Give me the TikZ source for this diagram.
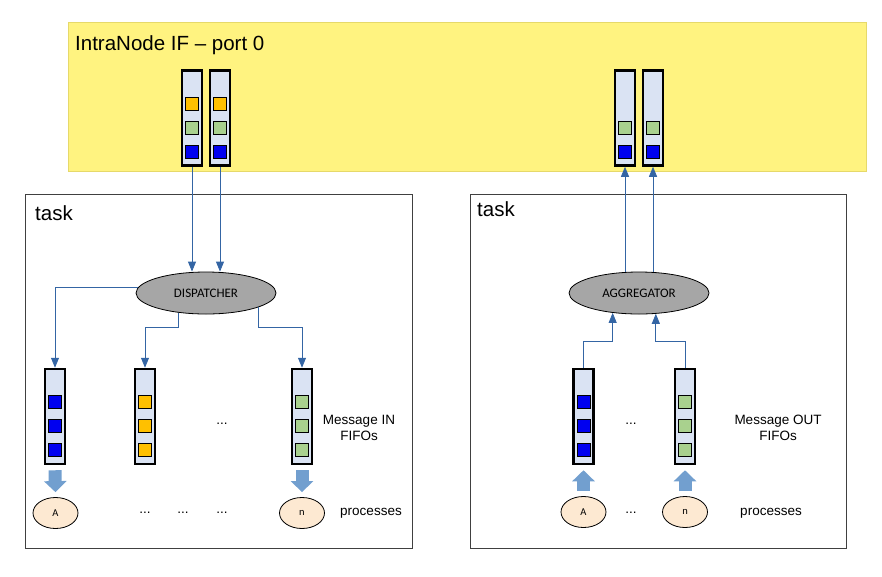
\documentclass[tikz,border=0pt]{standalone}
\usepackage{fontspec}
\setmainfont{Liberation Sans}
\newfontfamily\calfont{Carlito}
\usetikzlibrary{arrows.meta,shapes.geometric}
\definecolor{portyellow}{HTML}{FFF380}
\definecolor{portedge}{HTML}{E6D96A}
\definecolor{fifobg}{HTML}{DAE3F3}
\definecolor{msgorange}{HTML}{FFC000}
\definecolor{msggreen}{HTML}{A9D18E}
\definecolor{msgblue}{HTML}{0000F0}
\definecolor{hubgray}{HTML}{A6A6A6}
\definecolor{procpeach}{HTML}{FDE9D2}
\definecolor{linkblue}{HTML}{3465A4}
\definecolor{pushblue}{HTML}{729FCF}
\definecolor{boxedge}{HTML}{404040}

% one FIFO: name, x, y, colours of its cells from the bottom up
\newcommand{\fifo}[4]{%
  \node[fifo] (#1) at (#2,#3) {};
  \foreach \c [count=\i] in {#4}
    \node[cell,fill=\c] (#1-\i) at ([yshift=24pt*\i-9pt]#1.south) {};
}

\begin{document}
\begin{tikzpicture}[x=1pt,y=-1pt,>={Triangle[length=10pt,width=8pt]},
    fifo/.style={draw=black,line width=2.5pt,fill=fifobg,minimum width=20pt,minimum height=95pt,inner sep=0pt},
    cell/.style={draw=black,line width=0.6pt,minimum size=13pt,inner sep=0pt},
    panel/.style={draw=boxedge,line width=0.8pt,inner sep=0pt},
    hub/.style={ellipse,draw=black,line width=0.8pt,fill=hubgray,minimum width=140pt,minimum height=42pt,font=\calfont\fontsize{13}{15}\selectfont},
    proc/.style={ellipse,draw=black,line width=0.8pt,fill=procpeach,minimum width=45pt,minimum height=31pt,inner sep=0pt,font=\calfont\fontsize{10.5}{12}\selectfont},
    push/.style={draw=pushblue,line width=13pt,shorten <=5pt,shorten >=5pt,
      -{Triangle[length=11pt 0 0,width=22pt 0 0]}},
    link/.style={draw=linkblue,line width=0.8pt},
    lbl/.style={font=\fontsize{13.5}{16}\selectfont,align=center},
    title/.style={font=\fontsize{20.5}{24}\selectfont,anchor=west,inner sep=0pt}]
  \useasboundingbox (0,0) rectangle (882,576);

  % containers
  \node[panel,draw=portedge,fill=portyellow,minimum width=798pt,minimum height=149pt] (port) at (467,96.5) {};
  \node[panel,minimum width=387pt,minimum height=354pt] (task_in) at (218.5,371) {};
  \node[panel,minimum width=376pt,minimum height=354pt] (task_out) at (658,371) {};
  \node[title] (port_t) at (75,45) {IntraNode IF -- port 0};
  \node[title] (in_t) at (35,213) {task};
  \node[title] (out_t) at (477,209) {task};

  % FIFOs
  \fifo{T_1}{192}{118}{msgblue,msggreen,msgorange}
  \fifo{T_2}{220}{118}{msgblue,msggreen,msgorange}
  \fifo{T_3}{625}{118}{msgblue,msggreen}
  \fifo{T_4}{653}{118}{msgblue,msggreen}
  \fifo{I_1}{55}{416.5}{msgblue,msgblue,msgblue}
  \fifo{I_2}{145}{416.5}{msgorange,msgorange,msgorange}
  \fifo{I_3}{302}{416.5}{msggreen,msggreen,msggreen}
  \fifo{O_1}{583.5}{416.5}{msgblue,msgblue,msgblue}
  \fifo{O_2}{685}{416.5}{msggreen,msggreen,msggreen}

  \node[hub] (D) at (206,293) {DISPATCHER};
  \node[hub] (G) at (639,293) {AGGREGATOR};

  % processes
  \node[proc] (P_A) at (55.5,513) {A};
  \node[proc] (P_n) at (302,513) {n};
  \node[proc] (Q_A) at (583.5,512) {A};
  \node[proc] (Q_n) at (685,512) {n};

  % labels
  \node[lbl] (in_l) at (359,428) {Message IN\\FIFOs};
  \node[lbl] (out_l) at (778,428) {Message OUT\\FIFOs};
  \node[lbl] (in_p) at (371,513) {processes};
  \node[lbl] (out_p) at (771,513) {processes};
  \node[lbl] (in_d) at (222,424) {...};
  \node[lbl] (out_d) at (631,424) {...};
  \node[lbl] (d_1) at (145,513) {...};
  \node[lbl] (d_2) at (183,513) {...};
  \node[lbl] (d_3) at (222,513) {...};
  \node[lbl] (d_4) at (631,513) {...};

  % connectors
  \coordinate (split) at (0,327);
  \coordinate (join) at (0,341);
  \begin{scope}[every path/.style={link}]
    \draw[->] (T_1.south) -- (T_1.south |- D.north);
    \draw[->] (T_2.south) -- (T_2.south |- D.north);
    \draw[->] (D.175) -| (I_1.north);
    \draw[->] (D.215) -- (D.215 |- split) -| (I_2.north);
    \draw[->] (D.345) -- (D.345 |- split) -| (I_3.north);
    \draw[->] (T_3.south |- G.north) -- (T_3.south);
    \draw[->] (T_4.south |- G.north) -- (T_4.south);
    \draw[->] (O_1.north) -- (O_1.north |- join) -| (G.217);
    \draw[->] (O_2.north) -- (O_2.north |- join) -| (G.309);
  \end{scope}
  \draw[push] (I_1.south) -- (P_A.north);
  \draw[push] (I_3.south) -- (P_n.north);
  \draw[push] (Q_A.north) -- (O_1.south);
  \draw[push] (Q_n.north) -- (O_2.south);
\end{tikzpicture}
\end{document}
